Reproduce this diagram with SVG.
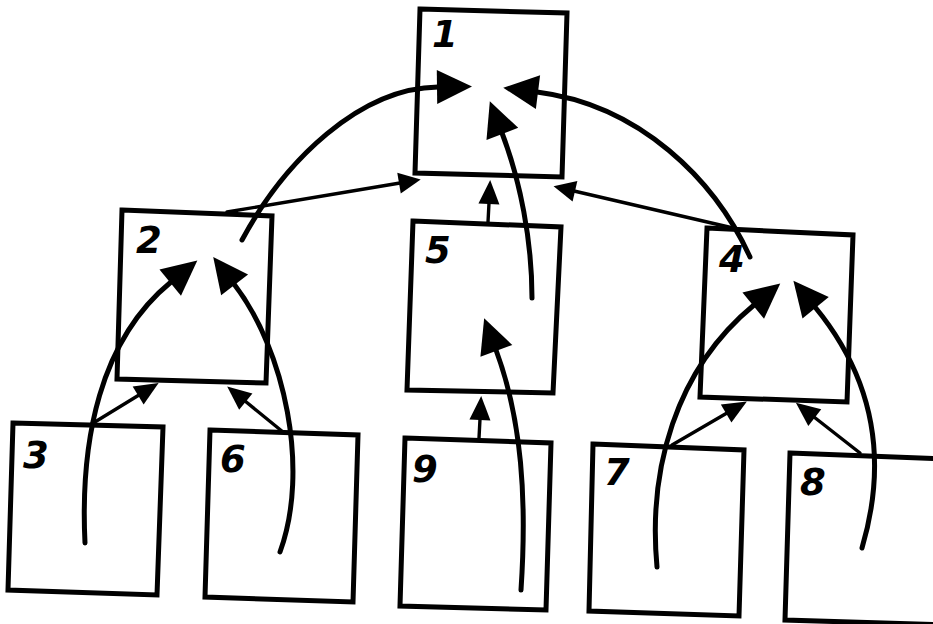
<svg xmlns="http://www.w3.org/2000/svg" width="933" height="624" viewBox="0 0 933 624">
  <style>
    .box { fill: none; stroke: #000; stroke-width: 5; stroke-linejoin: miter; }
    .lbl { font-family: "DejaVu Sans", "Liberation Sans", sans-serif; font-size: 37px; font-weight: bold; font-style: oblique; fill: #000; }
    .curve { fill: none; stroke: #000; stroke-width: 5; stroke-linecap: round; }
    .link { fill: none; stroke: #000; stroke-width: 3.4; stroke-linecap: round; }
  </style>
  <defs>
    <marker id="headBig" markerUnits="userSpaceOnUse" viewBox="0 -18 36 36" markerWidth="36" markerHeight="36" refX="1" refY="0" orient="auto" overflow="visible">
      <path d="M0,-17 L35,0 L0,17 z" fill="#000"/>
    </marker>
    <marker id="headSmall" markerUnits="userSpaceOnUse" viewBox="0 -11 26 22" markerWidth="26" markerHeight="22" refX="1" refY="0" orient="auto" overflow="visible">
      <path d="M0,-10.5 L24,0 L0,10.5 z" fill="#000"/>
    </marker>
    <marker id="headMid" markerUnits="userSpaceOnUse" viewBox="0 -11 24 22" markerWidth="24" markerHeight="22" refX="1" refY="0" orient="auto" overflow="visible">
      <path d="M0,-10.5 L22,0 L0,10.5 z" fill="#000"/>
    </marker>
  </defs>

  <rect width="933" height="624" fill="#fff"/>

  <!-- nodes -->
  <g id="node1">
    <polygon class="box" points="420,9 567,13 562,177 415,173"/>
    <text class="lbl" x="432" y="47">1</text>
  </g>
  <g id="node2">
    <polygon class="box" points="122,210 272,216 266,383 117,379"/>
    <text class="lbl" x="136" y="253">2</text>
  </g>
  <g id="node5">
    <polygon class="box" points="413,221 561,227 553,393 407,390"/>
    <text class="lbl" x="425" y="263">5</text>
  </g>
  <g id="node4">
    <polygon class="box" points="707,228 853,235 847,402 700,397"/>
    <text class="lbl" x="719" y="272">4</text>
  </g>
  <g id="node3">
    <polygon class="box" points="13,423 163,427 157,595 8,590"/>
    <text class="lbl" x="23" y="468">3</text>
  </g>
  <g id="node6">
    <polygon class="box" points="210,430 358,435 353,602 205,597"/>
    <text class="lbl" x="220" y="472">6</text>
  </g>
  <g id="node9">
    <polygon class="box" points="405,438 551,443 546,610 400,606"/>
    <text class="lbl" x="412" y="482">9</text>
  </g>
  <g id="node7">
    <polygon class="box" points="593,444 744,450 739,616 589,611"/>
    <text class="lbl" x="604" y="485">7</text>
  </g>
  <g id="node8">
    <polygon class="box" points="790,453 945,459 945,625 785,620"/>
    <text class="lbl" x="800" y="495">8</text>
  </g>

  <!-- connectors -->
  <g id="connectors">
    <!-- straight links into the bottom corners of 1 -->
    <path class="link" d="M227,212 L400,183" marker-end="url(#headMid)"/>
    <path class="link" d="M733,228 L574,191" marker-end="url(#headMid)"/>

    <!-- short vertical links -->
    <path class="link" d="M488,222 L489,203" marker-end="url(#headSmall)"/>
    <path class="link" d="M479,438 L480,419" marker-end="url(#headSmall)"/>

    <!-- short diagonal links into 2 and 4 -->
    <path class="link" d="M90,425 L139,395" marker-end="url(#headSmall)"/>
    <path class="link" d="M283,432 L245,401" marker-end="url(#headSmall)"/>
    <path class="link" d="M672,445 L727,413" marker-end="url(#headSmall)"/>
    <path class="link" d="M860,453 L814,417" marker-end="url(#headSmall)"/>

    <!-- long curved arrows -->
    <path class="curve" d="M242,240 C285,160 360,88 438,87" marker-end="url(#headBig)"/>
    <path class="curve" d="M750,257 C715,180 640,105 537,92" marker-end="url(#headBig)"/>
    <path class="curve" d="M532,298 C532,240 520,180 502,133" marker-end="url(#headBig)"/>
    <path class="curve" d="M521,590 C527,500 522,420 496,350" marker-end="url(#headBig)"/>
    <path class="curve" d="M85,543 C80,440 100,340 171,282" marker-end="url(#headBig)"/>
    <path class="curve" d="M280,552 C310,470 285,350 234,284" marker-end="url(#headBig)"/>
    <path class="curve" d="M657,567 C648,470 675,370 754,305" marker-end="url(#headBig)"/>
    <path class="curve" d="M862,548 C888,460 875,380 815,307" marker-end="url(#headBig)"/>
  </g>
</svg>
